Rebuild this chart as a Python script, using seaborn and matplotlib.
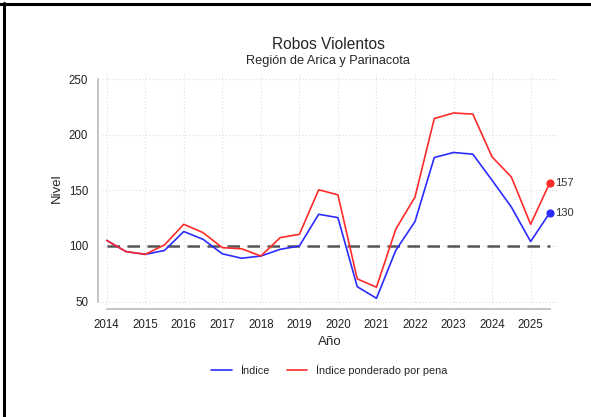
import matplotlib
import matplotlib.pyplot as plt
import pandas as pd
import seaborn as sns
from matplotlib.lines import Line2D

matplotlib.use('agg')

# semestres 2014 - 2025.5
anios = [2014 + 0.5 * i for i in range(24)]
indice = [105, 95, 92.5, 96, 113, 106, 93, 89, 91, 97, 100, 128.5,
          125.5, 63.5, 53, 96, 122, 179.5, 184, 182.5, 159, 135, 104, 130]
ponderado = [105, 95, 92.5, 101, 119.5, 112, 98.5, 97.5, 91, 107.5, 110.5, 150.5,
             146, 70.5, 63, 115, 144, 214.5, 219.5, 218.5, 180, 162, 119.5, 157]
series = ["Índice", "Índice ponderado por pena"]
colores = ["#2b2bff", "#ff2b2b"]

df = pd.DataFrame({
    "Año": anios * 2,
    "Nivel": indice + ponderado,
    "serie": [series[0]] * len(anios) + [series[1]] * len(anios),
})

sns.set_style("white")
plt.rcParams["font.family"] = ["Liberation Sans", "DejaVu Sans"]

fig = plt.figure(figsize=(5.91, 4.17), dpi=100)
ax = fig.add_axes([0.1726, 0.2686, 0.7699, 0.5587])

sns.lineplot(data=df, x="Año", y="Nivel", hue="serie", palette=colores,
             linewidth=1.2, ax=ax)
ax.hlines(100, anios[0], anios[-1], color="#555555", linewidth=1.8,
          linestyle=(0, (5, 3)), zorder=1)

# puntos y etiquetas finales
for vals, col in zip([indice, ponderado], colores):
    ax.scatter(anios[-1], vals[-1], color=col, s=24, zorder=5)
    ax.text(anios[-1] + 0.13, vals[-1], f"{vals[-1]:.0f}", va="center",
            fontsize=8, color="#333333")

ax.set_xlim(2013.878, 2025.685)
ax.set_ylim(47.0, 256.3)
ax.set_xticks(range(2014, 2026))
ax.set_yticks([50, 100, 150, 200, 250])
ax.grid(True, linestyle=(0, (1, 2)), color="#dddddd", linewidth=0.8)

for s in ["top", "right"]:
    ax.spines[s].set_visible(False)
for s in ["left", "bottom"]:
    ax.spines[s].set_color("#bbbbbb")
    ax.spines[s].set_linewidth(1.2)
    ax.spines[s].set_position(("outward", 3))
ax.spines["left"].set_bounds(50, 250)
ax.spines["bottom"].set_bounds(2014, 2025.5)
ax.tick_params(axis="both", length=4, width=1, color="#aaaaaa",
               labelsize=8.3, labelcolor="#222222", pad=3)

ax.set_xlabel("Año", fontsize=9.5, labelpad=4)
ax.set_ylabel("Nivel", fontsize=9.5, labelpad=4)

fig.text(0.555, 0.894, "Robos Violentos", ha="center", va="center", fontsize=11.2)
fig.text(0.555, 0.853, "Región de Arica y Parinacota", ha="center", va="center",
         fontsize=9.2)

sns.move_legend(ax, "center", bbox_to_anchor=(0.5, -0.28), ncol=2,
                frameon=False, title=None, fontsize=7.8, handlelength=1.85,
                columnspacing=1.65)

# marco
fig.add_artist(Line2D([0, 1], [0.991, 0.991], color="black", linewidth=2.2,
                      transform=fig.transFigure))
fig.add_artist(Line2D([0.0068, 0.0068], [0, 0.994], color="black", linewidth=2.2,
                      transform=fig.transFigure))

fig.savefig("out.png", dpi=100)
